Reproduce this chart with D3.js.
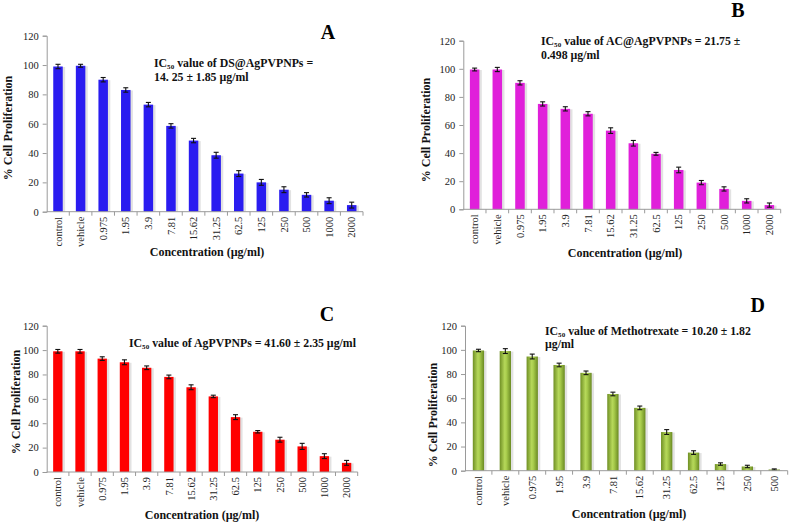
<!DOCTYPE html>
<html><head><meta charset="utf-8">
<script src="https://cdn.jsdelivr.net/npm/d3@7/dist/d3.min.js"></script>
<style>body{margin:0;background:#fff}svg{display:block}</style>
</head><body>
<svg id="chart" width="789" height="525"></svg>
<script>
// ---- data ----
const catsFull = ["control","vehicle","0.975","1.95","3.9","7.81","15.62","31.25","62.5","125","250","500","1000","2000"];
const catsD = ["control","vehicle","0.975","1.95","3.9","7.81","15.62","31.25","62.5","125","250","500"];
const yTicks = [0,20,40,60,80,100,120];

const valuesA = [99,99.5,90,83,73,58.5,48.5,38.5,26,20,15,11.5,7.5,4.5];
const errorsA = [1.5,1,1.5,1.5,1.5,1.5,1.5,2,2,2,2,1.5,2,2];
const valuesB = [99.5,99.5,90,75,71.5,68,56,47,39.5,28,19,14.5,6,3];
const errorsB = [1,1.5,1.5,1.5,1.5,1.5,2,2,1,2,1.5,1.5,1.5,1.5];
const valuesC = [99,99,93,90,85.5,78,69.5,62,45,33,26.5,21,13,7.5];
const errorsC = [1.5,1.5,1.5,2,1.5,1.5,2,1,2,1,2,2.5,2,2];
const valuesD = [99.5,99,94.5,87.5,81,63.5,52,32,15,5.5,3.5,1];
const errorsD = [1,2,2,1.5,1.5,1.5,1.5,2,1.5,1,1,0.5];

const panelLetters = ["A","B","C","D"];
const annotA = ["IC₅₀ value of DS@AgPVPNPs =","14. 25 ± 1.85 µg/ml"];
const annotB = ["IC₅₀ value of AC@AgPVPNPs = 21.75 ±","0.498 µg/ml"];
const annotC = ["IC₅₀ value of AgPVPNPs = 41.60 ± 2.35 µg/ml"];
const annotD = ["IC₅₀ value of Methotrexate =  10.20 ± 1.82","µg/ml"];
const yTitle = "% Cell Proliferation";
const xTitle = "Concentration (µg/ml)";

// ---- drawing ----
const svg = d3.select("#chart");
const defs = svg.append("defs");
const g = defs.append("linearGradient").attr("id","greenGrad").attr("x1","0").attr("x2","1").attr("y1","0").attr("y2","0");
g.append("stop").attr("offset","0%").attr("stop-color","#6f8f24");
g.append("stop").attr("offset","45%").attr("stop-color","#b6d85a");
g.append("stop").attr("offset","60%").attr("stop-color","#a8cc4c");
g.append("stop").attr("offset","100%").attr("stop-color","#6a8a22");

const SERIF = "'Liberation Serif','Times New Roman',serif";

function bold(sel, size, color) {
  return sel.attr("font-family",SERIF).attr("font-weight","bold").attr("font-size",size).attr("fill",color);
}

const panels = [
  {cats:catsFull, vals:valuesA, errs:errorsA, fill:"#2a1cf0", x0:46.7, x1:363, y0:211.7, y1:35.7, letter:panelLetters[0], lx:328, ly:39,
   annot:annotA, ax:154, ay:[67,81], ytx:12, yty:128, xtx:207, xty:256},
  {cats:catsFull, vals:valuesB, errs:errorsB, fill:"#e020da", x0:463.3, x1:780.7, y0:209.3, y1:40.7, letter:panelLetters[1], lx:738, ly:17,
   annot:annotB, ax:541, ay:[45,59], ytx:430, yty:130, xtx:625, xty:257},
  {cats:catsFull, vals:valuesC, errs:errorsC, fill:"#ff0000", x0:46.7, x1:357.7, y0:472, y1:325.7, letter:panelLetters[2], lx:327, ly:321,
   annot:annotC, ax:129, ay:[347], ytx:20, yty:402, xtx:202, xty:519},
  {cats:catsD, vals:valuesD, errs:errorsD, fill:"url(#greenGrad)", x0:465, x1:787.7, y0:470.7, y1:325.7, letter:panelLetters[3], lx:757.7, ly:312,
   annot:annotD, ax:545, ay:[335,348], ytx:437, yty:415, xtx:629, xty:518}
];

panels.forEach(p => {
  const gp = svg.append("g");
  const x = d3.scaleBand().domain(p.cats).range([p.x0, p.x1]).paddingInner(0.58).paddingOuter(0.29);
  const y = d3.scaleLinear().domain([0,120]).range([p.y0, p.y1]);

  // bar shadows
  gp.selectAll("rect.sh").data(p.vals).enter().append("rect")
    .attr("x",(d,i)=>x(p.cats[i])+1.2).attr("y",d=>y(d)+0.5)
    .attr("width",x.bandwidth()+1.2).attr("height",d=>p.y0-y(d)-0.5)
    .attr("fill","#e2e2e2");
  // bars
  gp.selectAll("rect.bar").data(p.vals).enter().append("rect")
    .attr("x",(d,i)=>x(p.cats[i])).attr("y",d=>y(d))
    .attr("width",x.bandwidth()).attr("height",d=>p.y0-y(d))
    .attr("fill",p.fill);
  // error bars
  const eg = gp.append("g").attr("stroke","#111").attr("stroke-width",1.1);
  p.vals.forEach((v,i)=>{
    const cx = x(p.cats[i]) + x.bandwidth()/2;
    const e = p.errs[i];
    eg.append("line").attr("x1",cx).attr("x2",cx).attr("y1",y(v+e)).attr("y2",y(v-e));
    eg.append("line").attr("x1",cx-2.5).attr("x2",cx+2.5).attr("y1",y(v+e)).attr("y2",y(v+e));
    eg.append("line").attr("x1",cx-2.5).attr("x2",cx+2.5).attr("y1",y(v-e)).attr("y2",y(v-e));
  });

  // y axis
  const yAxis = d3.axisLeft(y).tickValues(yTicks).tickSize(4).tickPadding(4);
  const ya = gp.append("g").attr("transform",`translate(${p.x0},0)`).call(yAxis);
  ya.select(".domain").attr("stroke","#9a9a9a");
  ya.selectAll(".tick line").attr("stroke","#9a9a9a");
  ya.selectAll(".tick text").attr("font-family",SERIF).attr("font-size","10.5px").attr("fill","#222");

  // x axis
  const xa = gp.append("g").attr("transform",`translate(0,${p.y0})`);
  xa.append("line").attr("x1",p.x0).attr("x2",p.x1).attr("y1",0).attr("y2",0).attr("stroke","#9a9a9a");
  const step = x.step();
  p.cats.forEach((c,i)=>{
    const bx = p.x0 + step*(i+1);
    xa.append("line").attr("x1",bx).attr("x2",bx).attr("y1",0).attr("y2",4).attr("stroke","#9a9a9a");
  });
  xa.selectAll("text.xl").data(p.cats).enter().append("text")
    .attr("transform",c=>`translate(${x(c)+x.bandwidth()/2},5) rotate(-90)`)
    .attr("text-anchor","end").attr("dy","0.35em")
    .attr("font-family",SERIF).attr("font-size","10.5px").attr("fill","#222")
    .text(c=>c);

  // titles
  bold(gp.append("text").attr("transform",`translate(${p.ytx},${p.yty}) rotate(-90)`)
    .attr("text-anchor","middle"), "12px", "#111").text(yTitle);
  bold(gp.append("text").attr("x",p.xtx).attr("y",p.xty).attr("text-anchor","middle"), "12px", "#111").text(xTitle);

  // panel letter
  bold(gp.append("text").attr("x",p.lx).attr("y",p.ly).attr("text-anchor","middle"), "20px", "#000").text(p.letter);

  // annotation
  p.annot.forEach((line,li)=>{
    bold(gp.append("text").attr("x",p.ax).attr("y",p.ay[li]), "11.8px", "#111").text(line);
  });
});
</script>
</body></html>
